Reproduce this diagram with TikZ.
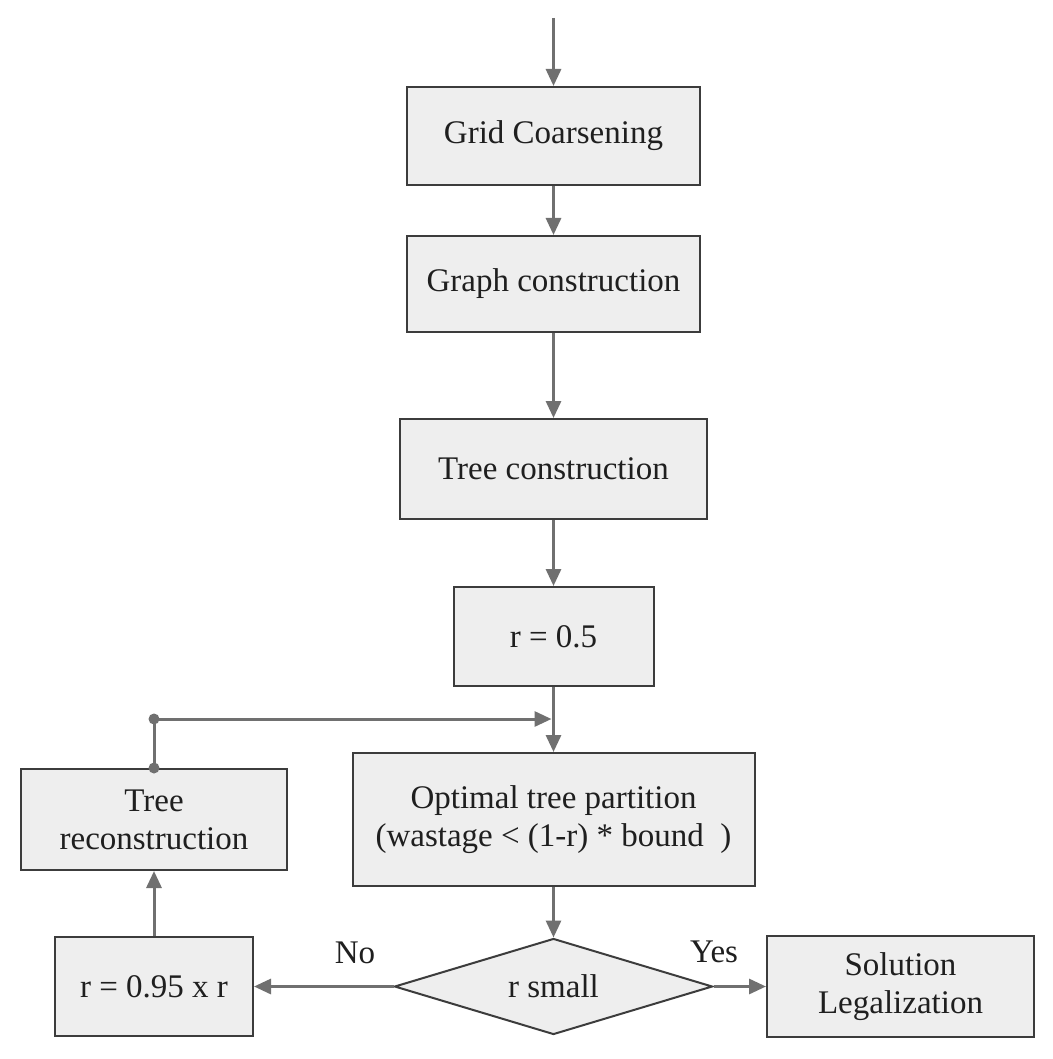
\documentclass[tikz,border=0pt]{standalone}
\usepackage{fontspec}
\setmainfont{Liberation Serif}
\usetikzlibrary{arrows.meta,shapes.geometric}
\definecolor{boxfill}{HTML}{EEEEEE}
\definecolor{boxline}{HTML}{3C3C3C}
\definecolor{flow}{HTML}{707070}
\begin{document}
\begin{tikzpicture}[x=1pt,y=-1pt,
  every node/.style={font=\fontsize{33}{38}\selectfont, text=black!88},
  stepbox/.style={draw=boxline, fill=boxfill, line width=2pt, inner sep=0pt, align=center},
  flowline/.style={draw=flow, line width=3pt, -{Triangle[length=17pt,width=15pt]}},
  plainline/.style={draw=flow, line width=3pt}]
\useasboundingbox[fill=white] (0,0) rectangle (1052,1059);

% main column
\node[stepbox, minimum width=293pt, minimum height=98pt]  (grid)  at (553.5,136)   {Grid Coarsening};
\node[stepbox, minimum width=293pt, minimum height=96pt]  (graph) at (553.5,284)   {Graph construction};
\node[stepbox, minimum width=307pt, minimum height=100pt] (tree)  at (553.5,469)   {Tree construction};
\node[stepbox, minimum width=200pt, minimum height=99pt]  (rinit) at (553.5,636.5) {r = 0.5};
\node[stepbox, minimum width=402pt, minimum height=133pt] (opt)   at (553.5,819.5) {Optimal tree partition\\(wastage < (1-r) * bound\ \ )};
\node[stepbox, shape=diamond, aspect=3.3, minimum width=318pt, minimum height=96pt] (dec) at (553.5,986.5) {r small};

% side boxes
\node[stepbox, minimum width=266pt, minimum height=101pt] (recon)  at (154,819.5) {Tree\\reconstruction};
\node[stepbox, minimum width=198pt, minimum height=99pt]  (rscale) at (154,986.5) {r = 0.95 x r};
\node[stepbox, minimum width=267pt, minimum height=101pt] (sol)    at (900.5,986.5) {Solution\\Legalization};

% connectors
\coordinate (start) at (553.5,18);
\coordinate (jl) at (154,719);
\coordinate (jr) at (551.5,719);

\draw[flowline] (start) -- (grid);
\draw[flowline] (grid) -- (graph);
\draw[flowline] (graph) -- (tree);
\draw[flowline] (tree) -- (rinit);
\draw[flowline] (rinit) -- (opt);
\draw[flowline] (opt) -- (dec);
\draw[flowline] (dec.west) -- (rscale.east);
\draw[flowline] (dec.east) -- (sol.west);
\draw[flowline] (rscale) -- (recon);
\draw[plainline] (recon.north) -- (jl);
\draw[flowline] (jl) -- (jr);
\fill[flow] (jl) circle (5.5);
\fill[flow] (recon.north) circle (5.5);

% branch labels
\node (no)  at (355,953) {No};
\node (yes) at (714,952) {Yes};
\end{tikzpicture}
\end{document}
